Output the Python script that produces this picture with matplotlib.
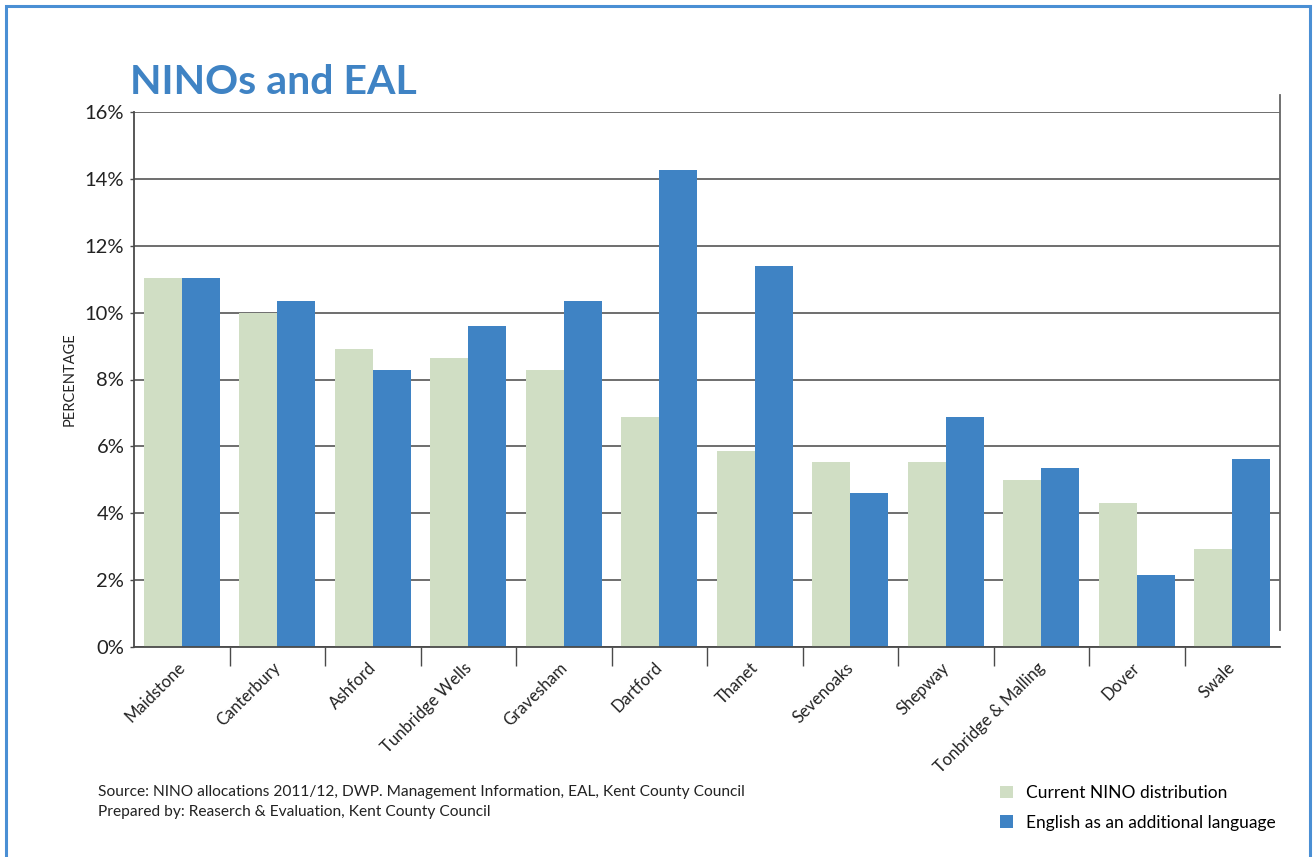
import matplotlib.pyplot as plt
import numpy as np
from matplotlib.lines import Line2D
from matplotlib.patches import Rectangle
from matplotlib.transforms import ScaledTranslation

plt.rcParams['font.family'] = ['Lato', 'DejaVu Sans']

districts = ['Maidstone', 'Canterbury', 'Ashford', 'Tunbridge Wells', 'Gravesham',
             'Dartford', 'Thanet', 'Sevenoaks', 'Shepway', 'Tonbridge & Malling',
             'Dover', 'Swale']
nino = [11.05, 10.0, 8.9, 8.63, 8.27, 6.87, 5.85, 5.52, 5.52, 4.99, 4.3, 2.93]
eal = [11.05, 10.36, 8.27, 9.61, 10.36, 14.27, 11.4, 4.6, 6.87, 5.34, 2.15, 5.61]
yticks = [0, 2, 4, 6, 8, 10, 12, 14, 16]

green = '#d0dec4'
blue = '#3f83c4'
dark = '#4a4a4a'

W, H = 1316, 857
fig = plt.figure(figsize=(W / 100, H / 100), dpi=100)
ax = fig.add_axes([134 / W, (H - 647) / H, 1146 / W, 535 / H])

x = np.arange(len(districts))
bw = 0.4
b1 = ax.bar(x - bw / 2, nino, bw, color=green, linewidth=0, zorder=2,
            label='Current NINO distribution')
b2 = ax.bar(x + bw / 2, eal, bw, color=blue, linewidth=0, zorder=2,
            label='English as an additional language')

ax.set_xlim(-0.5, len(districts) - 0.5)
ax.set_ylim(0, 16)
ax.set_yticks(yticks)
ax.set_yticklabels(['%d%%' % v for v in yticks], fontsize=14.5, color='#222222')
ax.yaxis.grid(True, color='#555555', linewidth=1.2, zorder=0)
ax.set_axisbelow(True)
ax.tick_params(axis='y', length=3, width=1, color=dark, pad=4)
ax.set_ylabel('PERCENTAGE', fontsize=10.5, color='#222222', labelpad=6)

# boundary ticks between districts, names centred under each pair
ax.set_xticks(np.arange(len(districts) - 1) + 0.5)
ax.set_xticklabels([])
ax.tick_params(axis='x', which='major', length=14, width=1, color=dark)
ax.set_xticks(x, minor=True)
ax.set_xticklabels(districts, minor=True, rotation=45, ha='right', va='top',
                   rotation_mode='anchor', fontsize=12, color='#222222')
ax.tick_params(axis='x', which='minor', length=0, pad=9)
shift = ScaledTranslation(-5 / 100, 0, fig.dpi_scale_trans)
for lab in ax.get_xticklabels(minor=True):
    lab.set_transform(lab.get_transform() + shift)

for side in ['top', 'right']:
    ax.spines[side].set_visible(False)
for side in ['left', 'bottom']:
    ax.spines[side].set_color(dark)
    ax.spines[side].set_linewidth(1.3)

# right-hand axis line sits slightly raised
ax.add_line(Line2D([1, 1], [17 / 535, 1 + 17 / 535], transform=ax.transAxes,
                   color='#666666', linewidth=1.3, clip_on=False))

fig.text(130 / W, (H - 94) / H, 'NINOs and EAL', fontsize=29.5, fontweight='bold',
         color='#3f83c4', va='baseline', ha='left')

fig.text(98 / W, (H - 796) / H,
         'Source: NINO allocations 2011/12, DWP. Management Information, EAL, Kent County Council',
         fontsize=11.2, color='#222222', va='baseline')
fig.text(98 / W, (H - 816) / H, 'Prepared by: Reaserch & Evaluation, Kent County Council',
         fontsize=11.2, color='#222222', va='baseline')

fig.legend(handles=[b1, b2], loc='upper left', bbox_to_anchor=(1000 / W, (H - 785) / H),
           frameon=False, fontsize=12.5, handlelength=0.75, handleheight=0.75,
           handletextpad=0.75, labelspacing=0.8, borderaxespad=0, borderpad=0)

# page frame
fig.patches.append(Rectangle((6 / W, -0.05), 1304 / W, 1.05 - 6 / H, transform=fig.transFigure,
                             fill=False, edgecolor='#4a8fd4', linewidth=2.2))

fig.savefig('out.png', dpi=100)
